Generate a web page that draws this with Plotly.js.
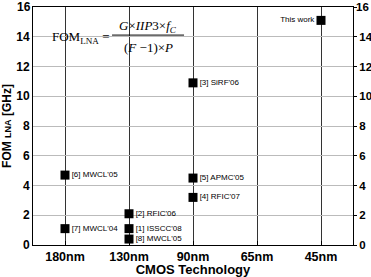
<!DOCTYPE html>
<html>
<head>
<meta charset="utf-8">
<script src="https://cdn.plot.ly/plotly-3.0.1.min.js"></script>
<style>html,body{margin:0;padding:0;background:#fff}#chart{width:371px;height:277px}</style>
</head>
<body>
<div id="chart"></div>
<script>
var categories = ['180nm', '130nm', '90nm', '65nm', '45nm'];
var pointTech = ['45nm', '90nm', '90nm', '90nm', '180nm', '180nm', '130nm', '130nm', '130nm'];
var pointFom = [15.1, 10.9, 4.5, 3.2, 4.7, 1.1, 2.1, 1.1, 0.4];
var pointLabels = ['This work', '[3] SiRF\'06', '[5] APMC\'05', '[4] RFIC\'07', '[6] MWCL\'05', '[7] MWCL\'04', '[2] RFIC\'06', '[1] ISSCC\'08', '[8] MWCL\'05'];
var labelSide = ['middle left', 'middle right', 'middle right', 'middle right', 'middle right', 'middle right', 'middle right', 'middle right', 'middle right'];
var yTicks = [0, 2, 4, 6, 8, 10, 12, 14, 16];

var yMax = yTicks[yTicks.length - 1];
var innerTicks = yTicks.slice(0, yTicks.length - 1);

var trace = {
  x: pointTech, y: pointFom, text: pointLabels, textposition: labelSide,
  mode: 'markers+text', type: 'scatter', cliponaxis: false,
  marker: {symbol: 'square', size: 9, color: '#000'},
  textfont: {family: 'Liberation Sans, Arial', size: 8, color: '#000'},
  hoverinfo: 'none', showlegend: false
};
var ghost = {
  x: pointTech, y: pointFom, yaxis: 'y2', mode: 'markers', type: 'scatter',
  marker: {size: 1, opacity: 0}, hoverinfo: 'none', showlegend: false
};

var tickFont = {family: 'Liberation Sans, Arial', size: 12, color: '#000', weight: 'bold'};
var rightFont = {family: 'Liberation Sans, Arial', size: 11.5, color: '#000', weight: 'bold'};
var layout = {
  width: 371, height: 277,
  margin: {l: 33, r: 18, t: 7, b: 32},
  paper_bgcolor: '#fff', plot_bgcolor: '#fff',
  xaxis: {
    type: 'category', categoryorder: 'array', categoryarray: categories,
    range: [-0.5, 4.5], showgrid: true, gridcolor: '#333', gridwidth: 1,
    showline: true, linecolor: '#000', linewidth: 1, mirror: true,
    ticks: 'inside', ticklen: 4, tickcolor: '#000',
    tickfont: {family: 'Liberation Sans, Arial', size: 12.5, color: '#000', weight: 'bold'}, zeroline: false,
    title: {text: '<b>CMOS Technology</b>', font: {family: 'Liberation Sans, Arial', size: 13, color: '#000'}, standoff: 2}
  },
  yaxis: {
    range: [0, yMax], tickvals: innerTicks, showgrid: true, gridcolor: '#bbb', gridwidth: 1,
    showline: true, linecolor: '#000', linewidth: 1, mirror: true,
    ticks: '', tickfont: tickFont, zeroline: false, ticklabeloverflow: 'allow',
    title: {text: '<b>FOM <span style="font-size:9px">LNA</span> [GHz]</b>', font: {family: 'Liberation Sans, Arial', size: 12, color: '#000'}, standoff: 4}
  },
  yaxis2: {
    range: [0, yMax], tickvals: yTicks, ticktext: yTicks.map(function(v){ return v === yMax ? '' : String(v); }),
    overlaying: 'y', side: 'right',
    showgrid: false, showline: false, ticks: 'outside', ticklen: 3, tickcolor: '#000',
    ticklabelstandoff: 0, ticklabeloverflow: 'allow',
    tickfont: rightFont, zeroline: false
  },
  annotations: [
    {xref: 'paper', yref: 'y', x: 0, y: yMax, xanchor: 'right', yanchor: 'middle', xshift: -2, showarrow: false,
     borderpad: 0, borderwidth: 0, text: String(yMax), font: tickFont},
    {xref: 'paper', yref: 'y', x: 1, y: yMax, xanchor: 'left', yanchor: 'middle', xshift: 3, showarrow: false,
     borderpad: 0, borderwidth: 0, text: String(yMax), font: rightFont},
    {xref: 'paper', yref: 'paper', x: 0.053, y: 0.87, xanchor: 'left', yanchor: 'middle', showarrow: false,
     text: 'FOM<sub>LNA</sub> =', font: {family: 'Liberation Serif, Times New Roman', size: 13, color: '#000'}},
    {xref: 'paper', yref: 'paper', x: 0.36, y: 0.92, xanchor: 'center', yanchor: 'middle', showarrow: false,
     text: '<i>G</i>×<i>IIP</i>3×<i>f</i><sub><i>C</i></sub>', font: {family: 'Liberation Serif, Times New Roman', size: 13, color: '#000'}},
    {xref: 'paper', yref: 'paper', x: 0.36, y: 0.83, xanchor: 'center', yanchor: 'middle', showarrow: false,
     text: '(<i>F</i> −1)×<i>P</i>', font: {family: 'Liberation Serif, Times New Roman', size: 13, color: '#000'}}
  ],
  shapes: [
    {type: 'line', xref: 'paper', yref: 'paper', x0: 0.247, x1: 0.472, y0: 0.882, y1: 0.882, line: {color: '#000', width: 1}}
  ]
};
Plotly.newPlot('chart', [trace, ghost], layout, {staticPlot: true, displayModeBar: false});
</script>
</body>
</html>
